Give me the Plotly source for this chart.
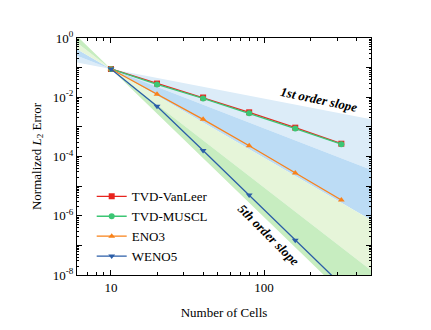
import numpy as np
import plotly.graph_objects as go

# ── data ─────────────────────────────────────────────
cells = [10, 20, 40, 80, 160, 320]
err_vanleer = [0.09, 0.029, 0.0098, 0.0031, 9.4e-4, 2.7e-4]
err_muscl = [0.09, 0.027, 0.0091, 0.0029, 8.8e-4, 2.6e-4]
err_eno3 = [0.09, 0.0126, 0.0018, 2.3e-4, 2.8e-5, 3.4e-6]
err_weno5 = [0.09, 5.0e-3, 1.6e-4, 5.0e-6, 1.5e-7, 4.7e-9]

# slope fan: pivot point and order bands (upper order, lower order)
pivot_n, pivot_err = 10, 0.09
fan_ends = [5, 10, 600]
bands = [(1, 2, "#dcecf8"), (2, 3, "#bcdcf5"), (3, 4, "#e6f5d9"), (4, 5, "#c7edc0")]

y_tickvals = [1e0, 1e-1, 1e-2, 1e-3, 1e-4, 1e-5, 1e-6, 1e-7, 1e-8]
y_ticktext = ["10<sup>0</sup>", "", "10<sup>-2</sup>", "", "10<sup>-4</sup>", "",
              "10<sup>-6</sup>", "", "10<sup>-8</sup>"]

FONT = "Times New Roman, Liberation Serif, DejaVu Serif, serif"


def slope_line(order):
    x = np.array(fan_ends, dtype=float)
    return x, pivot_err * (x / pivot_n) ** (-order)


fig = go.Figure()

# ── shaded order bands ───────────────────────────────
for k_hi, k_lo, color in bands:
    x1, y1 = slope_line(k_hi)
    x2, y2 = slope_line(k_lo)
    fig.add_trace(go.Scatter(
        x=list(x1) + list(x2[::-1]),
        y=list(y1) + list(y2[::-1]),
        fill="toself", fillcolor=color, mode="none",
        showlegend=False, hoverinfo="skip",
    ))

# ── error curves ─────────────────────────────────────
series = [
    ("TVD-VanLeer", err_vanleer, "#e8241e", "square"),
    ("TVD-MUSCL", err_muscl, "#3cc674", "circle"),
    ("ENO3", err_eno3, "#f98219", "triangle-up"),
    ("WENO5", err_weno5, "#2b5ea8", "triangle-down"),
]
for name, y, color, sym in series:
    fig.add_trace(go.Scatter(
        x=cells, y=y, name=name, mode="lines+markers",
        line=dict(color=color, width=1.3),
        marker=dict(symbol=sym, size=6, color=color),
    ))

# ── slope labels ─────────────────────────────────────
fig.add_annotation(
    x=np.log10(229), y=np.log10(8.7e-3), text="<b><i>1st order slope</i></b>",
    showarrow=False, textangle=12, font=dict(family=FONT, size=13, color="black"),
)
fig.add_annotation(
    x=np.log10(107), y=np.log10(2.4e-7), text="<b><i>5th order slope</i></b>",
    showarrow=False, textangle=45, font=dict(family=FONT, size=13, color="black"),
)

axis_common = dict(
    type="log", showline=True, linecolor="black", linewidth=1, mirror="allticks",
    ticks="inside", ticklen=5, tickcolor="black", showgrid=False, zeroline=False,
    automargin=False, tickfont=dict(family=FONT, size=13, color="black"),
)

fig.update_xaxes(
    **axis_common,
    range=[np.log10(6), np.log10(500)],
    tickvals=[10, 100], ticktext=["10", "100"],
    minor=dict(ticks="inside", ticklen=3, tickcolor="black", dtick="D1", showgrid=False),
    title=dict(text="Number of Cells", font=dict(family=FONT, size=13, color="black"), standoff=14),
)
fig.update_yaxes(
    **axis_common,
    range=[-8, 0],
    tickvals=y_tickvals, ticktext=y_ticktext,
    minor=dict(ticks="inside", ticklen=2, tickcolor="black", dtick="D1", showgrid=False),
    title=dict(text="Normalized <i>L</i><sub>2</sub> Error",
               font=dict(family=FONT, size=13, color="black"), standoff=8),
)

fig.update_layout(
    width=431, height=330,
    margin=dict(l=69, r=68, t=30, b=63),
    paper_bgcolor="white", plot_bgcolor="white",
    font=dict(family=FONT, size=13, color="black"),
    legend=dict(
        x=0.05, y=0.395, xanchor="left", yanchor="top",
        bgcolor="rgba(0,0,0,0)", font=dict(family=FONT, size=13),
        itemwidth=30, tracegroupgap=0,
    ),
)

fig.write_html("out.html")
